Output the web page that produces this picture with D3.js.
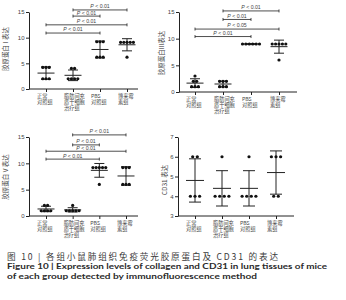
<!DOCTYPE html>
<html>
<head>
<meta charset="utf-8">
<script src="https://cdn.jsdelivr.net/npm/d3@7"></script>
<style>
  body { margin: 0; background: #fff; }
  svg { display: block; }
</style>
</head>
<body>
<div id="chart"></div>
<script>
/* Fig 10: collagen I / III / V and CD31 expression, four scatter panels with mean ± SD */

const groupLabels = [["正常", "对照组"], ["脂肪间充", "质干细胞", "治疗组"], ["PBS", "对照组"], ["博来霉", "素组"]];

const col1Values = [[4.2, 4.2, 4.2, 2, 2, 2], [4, 4, 2, 2, 2, 2], [9.2, 9.2, 9.2, 6.2, 6.2, 6.2], [9.1, 9.1, 9.1, 9.1, 9.1, 6.2]];
const col3Values = [[3, 2, 2, 1, 1, 1], [2, 2, 2, 1, 1, 1], [9, 9, 9, 9, 9, 9], [9, 9, 9, 9, 9, 6]];
const col5Values = [[2, 2, 1, 1, 1, 1], [2, 1, 1, 1, 1, 1], [9.2, 9.2, 9.2, 9.2, 9.2, 6], [9.2, 9.2, 9.2, 6, 6, 6]];
const cd31Values = [[6, 6, 4, 4, 4], [6, 4, 4, 4, 4], [6, 4, 4, 4, 4], [6, 6, 6, 4, 4]];

const collagenTicks = [0, 5, 10, 15];
const cd31Ticks = [3, 4, 5, 6, 7];

// [from group, to group]
const bracketPairs = [[1, 3], [1, 2], [0, 3], [0, 2]];
const col1Levels = [15.4, 14.2, 12.5, 10.9];
const col3Levels = [15.2, 13.6, 11.8, 10.4];
const col5Levels = [15.4, 13.5, 12.3, 10.8];
const col1P = ["0.01", "0.01", "0.01", "0.01"];
const col3P = ["0.01", "0.01", "0.05", "0.01"];
const col5P = ["0.01", "0.01", "0.01", "0.01"];

const titles = ["胶原蛋白 I 表达", "胶原蛋白III表达", "胶原蛋白 V 表达", "CD31 表达"];

const captionCn = "图 10 | 各组小鼠肺组织免疫荧光胶原蛋白及 CD31 的表达";
const captionEn1 = "Figure 10  |  Expression levels of collagen and CD31 in lung tissues of mice";
const captionEn2 = "of each group detected by immunofluorescence method";

const panels = [
  { values: col1Values, ticks: collagenTicks, levels: col1Levels, p: col1P, title: titles[0],
    ax: 29, xEnd: 138, yB: 89, yT: 12, g0: 46, g1: 127, tx: 8, ty: 49, sp: 3.2, mw: 8.5, cw: 5 },
  { values: col3Values, ticks: collagenTicks, levels: col3Levels, p: col3P, title: titles[1],
    ax: 179, xEnd: 297, yB: 92, yT: 12, g0: 195, g1: 279, tx: 164, ty: 53, sp: 3.4, mw: 8.5, cw: 5 },
  { values: col5Values, ticks: collagenTicks, levels: col5Levels, p: col5P, title: titles[2],
    ax: 29, xEnd: 138, yB: 216, yT: 137, g0: 46, g1: 126, tx: 8, ty: 177, sp: 3.2, mw: 8.5, cw: 5 },
  { values: cd31Values, ticks: cd31Ticks, levels: null, p: null, title: titles[3],
    ax: 178, xEnd: 294, yB: 216, yT: 137, g0: 195, g1: 276, tx: 167, ty: 180, sp: 4.6, mw: 9, cw: 6 }
];

const width = 346, height = 300;
const ink = "#222";
const textCol = "#444";

const svg = d3.select("#chart").append("svg")
  .attr("width", width)
  .attr("height", height)
  .style("background", "#fff");

panels.forEach(p => {
  const g = svg.append("g");
  const y = d3.scaleLinear()
    .domain(d3.extent(p.ticks))
    .range([p.yB, p.yT]);
  const x = d3.scalePoint()
    .domain(d3.range(groupLabels.length))
    .range([p.g0, p.g1]);

  // y axis
  g.append("g")
    .attr("transform", `translate(${p.ax},0)`)
    .call(d3.axisLeft(y).tickValues(p.ticks).tickFormat(d3.format("d"))
      .tickSize(3).tickSizeOuter(0).tickPadding(1.5))
    .call(a => a.selectAll("path, line").attr("stroke", ink))
    .call(a => a.selectAll("text").attr("fill", textCol).attr("font-size", 6)
      .attr("font-family", "Liberation Sans, Arial, sans-serif"));

  // x axis
  g.append("line")
    .attr("x1", p.ax).attr("x2", p.xEnd)
    .attr("y1", p.yB).attr("y2", p.yB)
    .attr("stroke", ink);
  g.append("g")
    .attr("transform", `translate(0,${p.yB})`)
    .call(d3.axisBottom(x).tickSize(3).tickFormat(""))
    .call(a => a.select(".domain").remove())
    .call(a => a.selectAll("line").attr("stroke", ink));

  // group labels, one text per line
  groupLabels.forEach((lines, i) => {
    lines.forEach((s, k) => {
      g.append("text")
        .attr("x", x(i) - 9)
        .attr("y", p.yB + 9 + k * 6.2)
        .attr("font-size", 5.2)
        .attr("fill", textCol)
        .attr("font-family", "Noto Sans CJK SC, sans-serif")
        .text(s);
    });
  });

  // y title
  g.append("text")
    .attr("transform", `translate(${p.tx},${p.ty}) rotate(-90)`)
    .attr("text-anchor", "middle")
    .attr("font-size", 6.5)
    .attr("fill", textCol)
    .attr("font-family", "Noto Sans CJK SC, sans-serif")
    .text(p.title);

  // points, mean and SD
  p.values.forEach((vals, i) => {
    const cx = x(i);
    const mean = d3.mean(vals);
    const sd = d3.deviation(vals);

    g.append("line")
      .attr("x1", cx).attr("x2", cx)
      .attr("y1", y(mean + sd)).attr("y2", y(mean - sd))
      .attr("stroke", ink);
    [mean + sd, mean - sd].forEach(v => {
      g.append("line")
        .attr("x1", cx - p.cw).attr("x2", cx + p.cw)
        .attr("y1", y(v)).attr("y2", y(v))
        .attr("stroke", ink);
    });
    g.append("line")
      .attr("x1", cx - p.mw).attr("x2", cx + p.mw)
      .attr("y1", y(mean)).attr("y2", y(mean))
      .attr("stroke", ink);

    const byVal = d3.groups(vals, v => v);
    byVal.forEach(([v, arr]) => {
      arr.forEach((_, k) => {
        g.append("circle")
          .attr("cx", cx + (k - (arr.length - 1) / 2) * p.sp)
          .attr("cy", y(v))
          .attr("r", 1.6)
          .attr("fill", "#111");
      });
    });
  });

  // significance brackets
  if (p.levels) {
    bracketPairs.forEach(([a, b], k) => {
      const yy = y(p.levels[k]);
      const xa = x(a), xb = x(b);
      g.append("line").attr("x1", xa).attr("x2", xb).attr("y1", yy).attr("y2", yy)
        .attr("stroke", ink).attr("stroke-width", 0.8);
      [xa, xb].forEach(xx => {
        g.append("line").attr("x1", xx).attr("x2", xx).attr("y1", yy - 1.5).attr("y2", yy + 1.5)
          .attr("stroke", ink).attr("stroke-width", 0.8);
      });
      const t = g.append("text")
        .attr("x", (xa + xb) / 2)
        .attr("y", yy - 1.6)
        .attr("text-anchor", "middle")
        .attr("font-size", 5.2)
        .attr("fill", textCol)
        .attr("font-family", "Liberation Sans, Arial, sans-serif");
      t.append("tspan").attr("font-style", "italic").text("P");
      t.append("tspan").text(" < " + p.p[k]);
    });
  }
});

// caption
svg.append("text")
  .attr("x", 7).attr("y", 259.5)
  .attr("font-size", 8.6)
  .attr("fill", "#3a3a3a")
  .attr("font-family", "Noto Sans CJK SC, sans-serif")
  .attr("textLength", 271)
  .attr("lengthAdjust", "spacing")
  .text(captionCn);

svg.append("text")
  .attr("x", 7).attr("y", 268.5)
  .attr("font-size", 8.2)
  .attr("font-weight", "bold")
  .attr("fill", "#2a2a2a")
  .attr("font-family", "Lato, Open Sans, sans-serif")
  .attr("textLength", 320)
  .attr("lengthAdjust", "spacingAndGlyphs")
  .text(captionEn1);

svg.append("text")
  .attr("x", 7).attr("y", 278.5)
  .attr("font-size", 8.2)
  .attr("font-weight", "bold")
  .attr("fill", "#2a2a2a")
  .attr("font-family", "Lato, Open Sans, sans-serif")
  .attr("textLength", 250)
  .attr("lengthAdjust", "spacingAndGlyphs")
  .text(captionEn2);
</script>
</body>
</html>
